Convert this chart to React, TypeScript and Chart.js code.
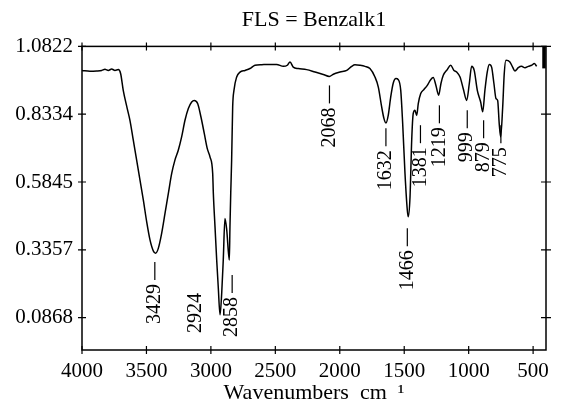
import { useEffect, useRef } from 'react';
import { Chart, registerables } from 'chart.js';

Chart.register(...registerables);

const chartTitle = 'FLS = Benzalk1';
const xAxisTitle = 'Wavenumbers  cm  \u00B9';

const xTickValues = [4000, 3500, 3000, 2500, 2000, 1500, 1000, 500];
const yTickValues = [0.0868, 0.3357, 0.5845, 0.8334, 1.0822];

const wavenumbers = [
  4000, 3938, 3886, 3847, 3822, 3796, 3770, 3744, 3718, 3700,
  3680, 3649, 3628, 3602, 3576, 3550, 3524, 3498, 3472, 3447,
  3429, 3408, 3382, 3356, 3330, 3304, 3279, 3253, 3227, 3201,
  3175, 3149, 3129, 3102, 3077, 3051, 3028, 3007, 2986, 2981,
  2968, 2955, 2943, 2929, 2916, 2904, 2891, 2877, 2857, 2852,
  2846, 2839, 2831, 2821, 2800, 2774, 2735, 2697, 2658, 2606,
  2541, 2490, 2438, 2407, 2386, 2361, 2322, 2257, 2192, 2128,
  2081, 2050, 1998, 1946, 1908, 1882, 1843, 1804, 1766, 1727,
  1701, 1675, 1657, 1642, 1624, 1605, 1585, 1564, 1546, 1527,
  1512, 1494, 1476, 1469, 1455, 1442, 1430, 1417, 1403, 1391,
  1372, 1347, 1321, 1295, 1275, 1254, 1233, 1215, 1197, 1166,
  1140, 1114, 1093, 1067, 1042, 1015, 995, 977, 957, 933,
  907, 891, 874, 856, 840, 822, 804, 788, 775, 763,
  752, 736, 724, 711, 680, 659, 641, 615, 589, 563,
  537, 511, 491, 472,
];

const absorbance = [
  0.994, 0.991, 0.992, 0.994, 0.998, 0.994, 0.999, 0.994, 0.997, 0.982,
  0.921, 0.854, 0.811, 0.738, 0.665, 0.591, 0.518, 0.438, 0.371, 0.332,
  0.323, 0.341, 0.396, 0.469, 0.543, 0.616, 0.665, 0.701, 0.750, 0.811,
  0.854, 0.878, 0.884, 0.872, 0.823, 0.762, 0.707, 0.677, 0.616, 0.543,
  0.420, 0.298, 0.200, 0.097, 0.177, 0.298, 0.451, 0.408, 0.298, 0.420,
  0.543, 0.665, 0.860, 0.921, 0.970, 0.988, 0.994, 1.001, 1.013, 1.015,
  1.016, 1.016, 1.009, 1.013, 1.025, 1.006, 1.001, 0.997, 0.988, 0.979,
  0.972, 0.980, 0.988, 0.994, 1.009, 1.015, 1.013, 1.009, 1.001, 0.970,
  0.933, 0.860, 0.817, 0.801, 0.829, 0.896, 0.948, 0.964, 0.960, 0.921,
  0.799, 0.616, 0.481, 0.457, 0.530, 0.738, 0.836, 0.848, 0.829, 0.872,
  0.909, 0.924, 0.939, 0.960, 0.968, 0.939, 0.903, 0.946, 0.976, 0.997,
  1.013, 0.994, 0.988, 0.970, 0.927, 0.884, 0.946, 1.009, 0.994, 0.921,
  0.878, 0.842, 0.921, 0.988, 1.016, 1.006, 0.946, 0.891, 0.884, 0.799,
  0.750, 0.860, 0.982, 1.031, 1.025, 1.006, 0.992, 1.004, 1.009, 1.004,
  1.009, 1.013, 1.019, 1.009,
];

const peakLabels = ['3429', '2924', '2858', '2068', '1632', '1466', '1381', '1219', '999', '879', '775'];
const peakLabelWn = [3435, 3116, 2835, 2080, 1642, 1476, 1374, 1227, 1011, 884, 750];
const peakLabelTop = [0.291, 0.177, 0.243, 0.939, 0.782, 0.415, 0.793, 0.866, 0.848, 0.811, 0.793];
const peakLabelDash = [true, false, true, true, true, true, true, true, true, true, true];

const FONT = "'Liberation Serif', 'Times New Roman', serif";

const framePlugin = {
  id: 'frameAndLabels',
  afterDatasetsDraw(chart: any) {
    const { ctx, chartArea, scales } = chart;
    const xs = scales.x;
    const ys = scales.y;
    const { left, right, top, bottom } = chartArea;
    ctx.save();
    ctx.strokeStyle = '#000';
    ctx.lineWidth = 1.5;
    ctx.strokeRect(left, top, right - left, bottom - top);
    ctx.lineWidth = 1.2;
    ctx.beginPath();
    for (const t of xs.ticks) {
      const px = xs.getPixelForValue(t.value);
      ctx.moveTo(px, bottom - 4);
      ctx.lineTo(px, bottom + 4);
      ctx.moveTo(px, top - 4);
      ctx.lineTo(px, top + 4);
    }
    for (const t of ys.ticks) {
      const py = ys.getPixelForValue(t.value);
      ctx.moveTo(left - 4, py);
      ctx.lineTo(left + 4, py);
      ctx.moveTo(right - 5, py);
      ctx.lineTo(right + 5, py);
    }
    ctx.stroke();
    // heavy mark at the top of the right frame
    ctx.lineWidth = 3.5;
    ctx.beginPath();
    ctx.moveTo(right - 2, top);
    ctx.lineTo(right - 2, top + 22);
    ctx.stroke();

    // peak labels
    ctx.fillStyle = '#000';
    ctx.font = `20px ${FONT}`;
    ctx.lineWidth = 1.2;
    const dashLen = 18;
    const gap = 4;
    peakLabels.forEach((txt, i) => {
      const px = xs.getPixelForValue(peakLabelWn[i]);
      const py = ys.getPixelForValue(peakLabelTop[i]);
      let start = py;
      if (peakLabelDash[i]) {
        ctx.beginPath();
        ctx.moveTo(px, py);
        ctx.lineTo(px, py + dashLen);
        ctx.stroke();
        start = py + dashLen + gap;
      }
      ctx.save();
      ctx.translate(px, start);
      ctx.rotate(-Math.PI / 2);
      ctx.textAlign = 'right';
      ctx.textBaseline = 'middle';
      ctx.fillText(txt, 0, 0);
      ctx.restore();
    });
    ctx.restore();
  },
};

export default function App() {
  const ref = useRef<HTMLCanvasElement>(null);
  useEffect(() => {
    const canvas = ref.current;
    if (!canvas) return;
    const points = wavenumbers.map((w, i) => ({ x: w, y: absorbance[i] }));
    const chart = new Chart(canvas, {
      type: 'line',
      data: {
        datasets: [
          {
            data: points,
            borderColor: '#000',
            borderWidth: 1.5,
            pointRadius: 0,
            fill: false,
            cubicInterpolationMode: 'monotone',
          },
        ],
      },
      options: {
        responsive: false,
        animation: false,
        devicePixelRatio: 1,
        layout: { padding: { left: 0, right: 18, top: 0, bottom: 0 } },
        plugins: {
          legend: { display: false },
          tooltip: { enabled: false },
          title: {
            display: true,
            text: chartTitle,
            color: '#000',
            fullSize: false,
            font: { family: FONT, size: 22, weight: 'normal' },
            padding: { top: 7, bottom: 13 },
          },
        },
        scales: {
          x: {
            type: 'linear',
            reverse: true,
            min: 400,
            max: 4000,
            afterBuildTicks: (s: any) => {
              s.ticks = xTickValues.map((v) => ({ value: v }));
            },
            afterFit: (s: any) => {
              s.height = 59;
            },
            grid: { display: false, drawTicks: false },
            border: { display: false },
            ticks: {
              color: '#000',
              font: { family: FONT, size: 21 },
              padding: 9,
              maxRotation: 0,
              autoSkip: false,
              callback: (v: any) => String(v),
            },
            title: {
              display: true,
              text: xAxisTitle,
              color: '#000',
              font: { family: FONT, size: 22 },
              padding: { top: 0, bottom: 3 },
            },
          },
          y: {
            type: 'linear',
            min: -0.032,
            max: 1.0822,
            afterBuildTicks: (s: any) => {
              s.ticks = yTickValues.map((v) => ({ value: v }));
            },
            afterFit: (s: any) => {
              s.width = 82;
            },
            grid: { display: false, drawTicks: false },
            border: { display: false },
            ticks: {
              color: '#000',
              font: { family: FONT, size: 21 },
              padding: 9,
              callback: (v: any) => Number(v).toFixed(4),
            },
          },
        },
      },
      plugins: [framePlugin],
    } as any);
    return () => chart.destroy();
  }, []);
  return (
    <div style={{ position: 'absolute', left: 0, top: 0, width: 564, height: 409, background: '#fff' }}>
      <canvas ref={ref} width={564} height={409} style={{ display: 'block', width: 564, height: 409 }} />
    </div>
  );
}
